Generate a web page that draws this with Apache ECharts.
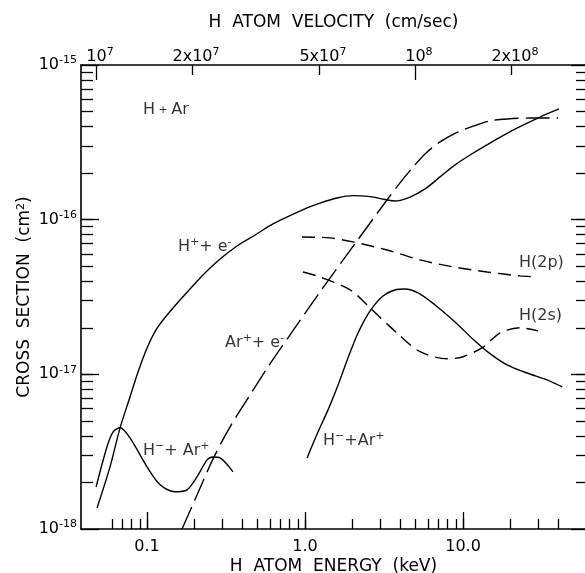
<!DOCTYPE html>
<html>
<head>
<meta charset="utf-8">
<script src="https://cdn.jsdelivr.net/npm/echarts@6/dist/echarts.min.js"></script>
<style>
  html, body { margin: 0; padding: 0; background: #ffffff; }
  #chart { width: 585px; height: 573px; }
</style>
</head>
<body>
<div id="chart"></div>
<script>
// Cross sections for H + Ar collisions versus H atom energy (keV).

// H+ + e-  (electron loss, solid)
const hPlusEnergy = [0.0483, 0.0583, 0.0675, 0.078, 0.0877, 0.1, 0.114, 0.134, 0.162, 0.1871, 0.226, 0.290, 0.371, 0.483, 0.627, 1.03, 1.244, 1.594, 2.01, 2.58, 3.21, 3.71, 4.62, 5.75, 7.15, 8.90, 11.07, 14.8, 21.3, 30.7, 40.5];
const hPlusSigma  = [1.37e-18, 2.52e-18, 4.51e-18, 7.14e-18, 1.036e-17, 1.48e-17, 1.94e-17, 2.42e-17, 3.03e-17, 3.56e-17, 4.39e-17, 5.57e-17, 6.76e-17, 7.96e-17, 9.38e-17, 1.19e-16, 1.28e-16, 1.38e-16, 1.43e-16, 1.41e-16, 1.35e-16, 1.32e-16, 1.40e-16, 1.58e-16, 1.89e-16, 2.26e-16, 2.62e-16, 3.13e-16, 3.85e-16, 4.61e-16, 5.20e-16];

// Ar+ + e-  (target ionisation, long dashes)
const arPlusEnergy = [0.1665, 0.2072, 0.2618, 0.3352, 0.4485, 0.6005, 0.8038, 1.244, 2.13, 3.30, 3.99, 4.83, 5.83, 7.15, 9.30, 11.74, 14.8, 19.0, 26.5, 39.9];
const arPlusSigma  = [1.0e-18, 1.66e-18, 2.84e-18, 4.57e-18, 7.36e-18, 1.17e-17, 1.80e-17, 3.41e-17, 7.28e-17, 1.34e-16, 1.73e-16, 2.19e-16, 2.70e-16, 3.18e-16, 3.69e-16, 4.04e-16, 4.35e-16, 4.48e-16, 4.54e-16, 4.54e-16];

// H(2p) excitation (short dashes)
const h2pEnergy = [0.957, 1.44, 2.01, 3.30, 5.34, 8.65, 14.2, 22.9, 29.8];
const h2pSigma  = [7.73e-17, 7.62e-17, 7.18e-17, 6.37e-17, 5.49e-17, 4.95e-17, 4.59e-17, 4.33e-17, 4.26e-17];

// H(2s) excitation (short dashes)
const h2sEnergy = [0.971, 1.245, 1.93, 2.58, 3.82, 5.34, 7.92, 10.0, 13.4, 17.1, 22.9, 29.8];
const h2sSigma  = [4.59e-17, 4.26e-17, 3.52e-17, 2.69e-17, 1.85e-17, 1.40e-17, 1.26e-17, 1.30e-17, 1.50e-17, 1.85e-17, 2.00e-17, 1.91e-17];

// H- + Ar+ , low-energy branch (solid)
const hMinusLowEnergy = [0.0476, 0.0558, 0.061, 0.0675, 0.078, 0.1, 0.121, 0.150, 0.179, 0.207, 0.240, 0.262, 0.290, 0.350];
const hMinusLowSigma  = [1.87e-18, 3.40e-18, 4.25e-18, 4.51e-18, 3.88e-18, 2.52e-18, 1.93e-18, 1.74e-18, 1.79e-18, 2.17e-18, 2.80e-18, 2.92e-18, 2.88e-18, 2.34e-18];

// H- + Ar+ , high-energy branch (solid)
const hMinusHighEnergy = [1.03, 1.209, 1.398, 1.618, 1.872, 2.165, 2.58, 3.116, 3.71, 4.30, 5.19, 6.65, 8.90, 11.9, 14.8, 19.0, 25.4, 34.0, 42.4];
const hMinusHighSigma  = [2.88e-18, 4.25e-18, 5.89e-18, 8.54e-18, 1.28e-17, 1.85e-17, 2.57e-17, 3.21e-17, 3.51e-17, 3.56e-17, 3.36e-17, 2.81e-17, 2.18e-17, 1.64e-17, 1.36e-17, 1.15e-17, 1.02e-17, 9.2e-18, 8.29e-18];

// Axis ticks and their labels
const energyTicks        = [0.1, 1, 10];
const energyTickLabels   = ['0.1', '1.0', '10.0'];
const sigmaTicks         = [1e-18, 1e-17, 1e-16, 1e-15];
const sigmaTickLabels    = ['10^-18', '10^-17', '10^-16', '10^-15'];
const velocityTicks      = [1e7, 2e7, 5e7, 1e8, 2e8];
const velocityTickLabels = ['10^7', '2x10^7', '5x10^7', '10^8', '2x10^8'];

// Curve labels, anchored at their left edge (energy keV, cross section cm^2)
const curveLabels  = ['{n|H}{p| + }{n|Ar}', 'H^++ e^-', 'Ar^++ e^-', 'H^−+ Ar^+', 'H^−+Ar^+', 'H(2p)', 'H(2s)'];
const curveLabelAt = [[0.0943, 5.12e-16], [0.157, 6.66e-17], [0.312, 1.60e-17], [0.0943, 3.20e-18], [1.30, 3.71e-18], [22.6, 5.25e-17], [22.6, 2.38e-17]];

// Axis ranges
const E_MIN = 0.0382, E_MAX = 60;
const V_MIN = 8.97e6, V_MAX = 3.44e8;
const S_MIN = 1e-18, S_MAX = 1e-15;

const FONT = 'DejaVu Sans';
const INK = '#000000';

// "a^b" -> rich text with superscript b
function sup(str) {
  if (str.indexOf('{') === 0) return str;
  const parts = str.split('^');
  let out = '{n|' + parts[0] + '}';
  for (let i = 1; i < parts.length; i++) {
    const m = parts[i].match(/^([-−+]?\d*)(.*)$/);
    out += '{s|' + m[1] + '}';
    if (m[2]) out += '{n|' + m[2] + '}';
  }
  return out;
}

function labelFor(ticks, labels) {
  return function (v) {
    for (let i = 0; i < ticks.length; i++) {
      if (Math.abs(Math.log10(v) - Math.log10(ticks[i])) < 1e-6) return sup(labels[i]);
    }
    return '';
  };
}

// ticks at 1..9 x 10^k inside [lo, hi]
function decadeTicks(lo, hi) {
  const out = [];
  for (let k = Math.floor(Math.log10(lo)); k <= Math.ceil(Math.log10(hi)); k++) {
    for (let m = 1; m <= 9; m++) {
      const v = +(m * Math.pow(10, k)).toPrecision(6);
      if (v >= lo * 1.0001 && v <= hi / 1.0001) out.push(v);
    }
  }
  return out;
}

const richText = {
  n: { fontFamily: FONT, fontSize: 16, color: INK, lineHeight: 20 },
  s: { fontFamily: FONT, fontSize: 11, color: INK, verticalAlign: 'top', lineHeight: 9 },
  p: { fontFamily: FONT, fontSize: 11, color: INK, lineHeight: 20 }
};

const nameStyle = { fontFamily: FONT, fontSize: 17, color: INK, rich: richText };
const tickStyle = { color: INK, width: 1.3 };
const lineAxis = { show: true, onZero: false, lineStyle: { color: INK, width: 1.6 } };

function logAxis(extra) {
  return Object.assign({
    type: 'log',
    logBase: 10,
    splitLine: { show: false },
    axisLine: { show: false, onZero: false },
    axisTick: { show: false },
    axisLabel: { show: false },
    axisPointer: { show: false }
  }, extra);
}

const energyMinor = decadeTicks(0.05, 50);
const sigmaMinor = decadeTicks(S_MIN, S_MAX);

const option = {
  backgroundColor: '#ffffff',
  animation: false,
  grid: { left: 81, top: 65, width: 505, height: 464, containLabel: false, outerBoundsMode: 'none' },
  xAxis: [
    logAxis({
      position: 'bottom', min: E_MIN, max: E_MAX,
      axisLine: lineAxis,
      axisTick: { show: true, inside: true, length: 10, customValues: energyMinor, lineStyle: tickStyle },
      axisLabel: {
        show: true, customValues: energyTicks, margin: 8,
        formatter: labelFor(energyTicks, energyTickLabels), rich: richText
      },
      name: 'H  ATOM  ENERGY  (keV)', nameLocation: 'middle', nameGap: 29, nameMoveOverlap: false,
      nameTextStyle: nameStyle
    }),
    logAxis({
      position: 'bottom', min: E_MIN, max: E_MAX,
      axisTick: { show: true, inside: true, length: 17, customValues: energyTicks, lineStyle: tickStyle }
    }),
    logAxis({
      position: 'top', min: V_MIN, max: V_MAX,
      axisLine: lineAxis,
      axisTick: { show: true, inside: true, length: 10, customValues: [2e7, 5e7, 2e8], lineStyle: tickStyle },
      axisLabel: {
        show: true, customValues: velocityTicks, margin: -2, padding: [0, 0, 0, 8],
        formatter: labelFor(velocityTicks, velocityTickLabels), rich: richText
      },
      name: 'H  ATOM  VELOCITY  (cm/sec)', nameLocation: 'middle', nameGap: 34,
      nameTextStyle: nameStyle
    }),
    logAxis({
      position: 'top', min: V_MIN, max: V_MAX,
      axisTick: { show: true, inside: true, length: 15, customValues: [1e7, 1e8], lineStyle: tickStyle }
    })
  ],
  yAxis: [
    logAxis({
      position: 'left', min: S_MIN, max: S_MAX,
      axisLine: lineAxis,
      axisTick: { show: true, inside: true, length: 12, customValues: sigmaMinor, lineStyle: tickStyle },
      axisLabel: {
        show: true, customValues: sigmaTicks, margin: 4,
        formatter: labelFor(sigmaTicks, sigmaTickLabels), rich: richText
      },
      name: 'CROSS  SECTION  (cm{s|2})', nameLocation: 'middle', nameGap: 48, nameMoveOverlap: false,
      nameTextStyle: nameStyle
    }),
    logAxis({
      position: 'left', min: S_MIN, max: S_MAX,
      axisTick: { show: true, inside: true, length: 18, customValues: sigmaTicks, lineStyle: tickStyle }
    }),
    logAxis({
      position: 'right', min: S_MIN, max: S_MAX,
      axisLine: lineAxis,
      axisTick: { show: true, inside: true, length: 10, customValues: sigmaMinor, lineStyle: tickStyle }
    }),
    logAxis({
      position: 'right', min: S_MIN, max: S_MAX,
      axisTick: { show: true, inside: true, length: 15, customValues: sigmaTicks, lineStyle: tickStyle }
    })
  ],
  series: []
};

function curve(name, xs, ys, dash) {
  return {
    type: 'line', name: name, xAxisIndex: 0, yAxisIndex: 0,
    data: xs.map(function (x, i) { return [x, ys[i]]; }),
    symbol: 'none', smooth: 0.3, silent: true, z: 3,
    lineStyle: { color: INK, width: 1.4, type: dash || 'solid' }
  };
}

option.series.push(
  curve('H+ + e-', hPlusEnergy, hPlusSigma),
  curve('Ar+ + e-', arPlusEnergy, arPlusSigma, [24, 7]),
  curve('H(2p)', h2pEnergy, h2pSigma, [13, 7]),
  curve('H(2s)', h2sEnergy, h2sSigma, [13, 7]),
  curve('H- + Ar+ (low)', hMinusLowEnergy, hMinusLowSigma),
  curve('H- + Ar+ (high)', hMinusHighEnergy, hMinusHighSigma)
);

option.series.push({
  type: 'scatter', name: 'labels', xAxisIndex: 0, yAxisIndex: 0,
  symbolSize: 0, silent: true, z: 4,
  data: curveLabelAt.map(function (p, i) {
    return { value: p, label: { formatter: sup(curveLabels[i]) } };
  }),
  label: { show: true, position: 'right', distance: 0, color: INK, rich: richText }
});

const chart = echarts.init(document.getElementById('chart'), null, { renderer: 'canvas' });
chart.setOption(option);
</script>
</body>
</html>
